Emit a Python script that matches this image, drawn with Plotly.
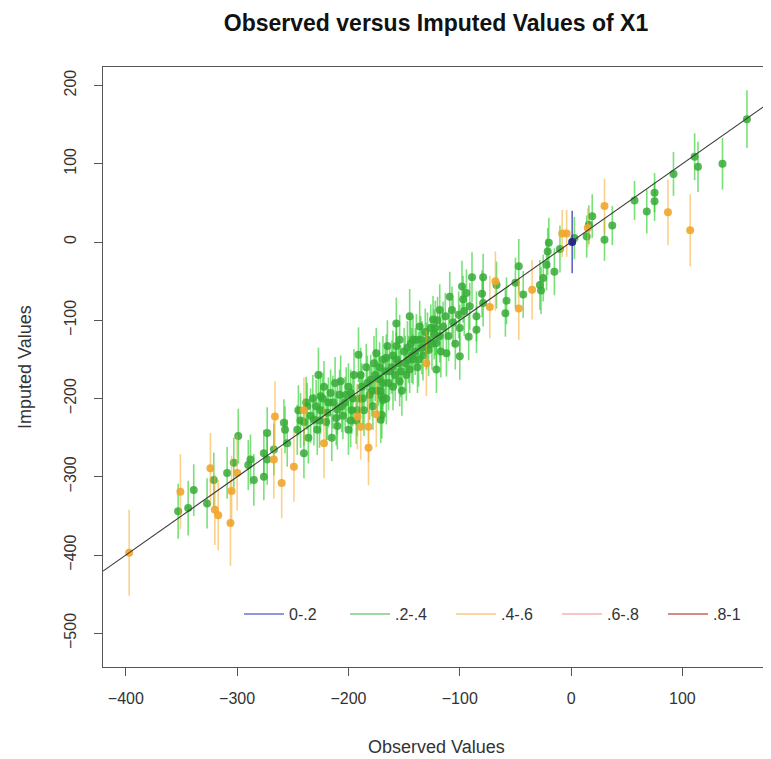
import plotly.graph_objects as go

# ---------------- data ----------------
legend_labels = ["0-.2", ".2-.4", ".4-.6", ".6-.8", ".8-1"]

blue_obs = [1]
blue_imp = [0]
blue_ci = [40]

orange_obs = [87, 107, 30, 15, -8, -4, -35, -47, -68, -73, -130, -192, -182, -182, -175,
              -222, -266, -267, -249, -300, -397, -351, -324, -320, -317, -306, -305, -260, -189, -240]
orange_imp = [38, 15, 46, 18, 11, 11, -61, -85, -50, -83, -155, -223, -236, -263, -220,
              -257, -223, -278, -287, -295, -397, -319, -289, -342, -349, -359, -318, -308, -236, -215]
orange_ci = [42, 46, 35, 25, 30, 30, 38, 40, 38, 40, 42, 42, 45, 48, 42,
             45, 45, 50, 45, 48, 55, 48, 45, 45, 45, 55, 45, 45, 42, 42]

green_obs = [158, 111, 114, 136, 92, 75, 75, 68, 57, 37, 30, 19, 14, 16, 3, -10, -20, -21, -22, -25,
             -28, -27, -15, -43, -47, -50, -58, -59, -67, -79, -89, -80, -79, -85, -91, -97, -98, -94,
             -109, -107, -118, -124, -115, -101, -92, -85, -136, -145, -157, -154, -142, -130, -121,
             -112, -100, -142, -165, -169, -145, -121, -191, -227, -154, -170, -180, -207, -198, -216,
             -210, -171, -231, -246, -255, -273, -258, -240, -276, -288, -299, -237, -225, -166, -157,
             -353, -344, -339, -327, -321, -309, -303, -290, -285, -276, -273, -267, -257, -175, -169,
             -170, -245, -240, -236, -232, -228, -225, -222, -220, -218, -215, -212, -210, -208, -205,
             -203, -200, -200, -197, -195, -193, -190, -188, -186, -184, -181, -178, -176, -174, -172,
             -169, -166, -163, -160, -160, -158, -155, -152, -150, -148, -146, -144, -140, -138, -135,
             -133, -131, -128, -126, -123, -120, -117, -113, -110, -106, -104, -100, -96,
             -243, -238, -234, -229, -226, -223, -219, -214, -211, -206, -202, -198, -196, -192, -189,
             -187, -183, -179, -177, -173, -171, -167, -164, -161, -157, -153, -149, -147, -143, -139,
             -137, -134, -129, -125, -122, -118]
green_imp = [157, 109, 96, 100, 87, 63, 52, 39, 53, 21, 3, 33, 7, 22, 5, -9, -1, -12, -29, -46,
             -55, -62, -38, -67, -31, -52, -75, -91, -55, -45, -45, -66, -78, -95, -82, -73, -57, -65,
             -70, -87, -87, -99, -108, -93, -121, -112, -108, -95, -104, -125, -125, -133, -129,
             -142, -146, -150, -133, -150, -163, -163, -144, -170, -178, -197, -176, -178, -193, -193,
             -214, -227, -227, -240, -257, -244, -231, -270, -270, -278, -248, -210, -197, -148, -133,
             -344, -340, -317, -334, -304, -295, -282, -285, -304, -300, -278, -265, -240, -142, -202,
             -221, -215, -230, -250, -200, -240, -215, -185, -230, -205, -250, -180, -235, -195, -222,
             -205, -185, -240, -215, -170, -228, -200, -185, -215, -160, -195, -210, -170, -190, -160,
             -180, -200, -165, -145, -185, -170, -155, -190, -140, -170, -150, -130, -140, -160, -125,
             -145, -115, -138, -110, -118, -100, -140, -95, -120, -103, -130, -110, -88,
             -228, -205, -222, -210, -228, -200, -218, -205, -225, -210, -195, -228, -200, -215, -170,
             -200, -180, -190, -155, -175, -190, -165, -180, -160, -150, -165, -155, -135, -145, -125,
             -150, -135, -125, -130, -110, -120]
green_ci = [37, 30, 32, 33, 28, 25, 25, 28, 25, 25, 27, 28, 27, 25, 27, 30, 32, 30, 33, 30,
            32, 30, 30, 30, 35, 32, 30, 30, 30, 30, 32, 30, 30, 32, 30, 30, 33, 30,
            32, 30, 33, 30, 32, 30, 30, 30, 33, 35, 33, 32, 30, 30, 32,
            30, 30, 32, 33, 30, 30, 30, 35, 35, 32, 30, 32, 33, 30, 30,
            32, 30, 33, 32, 30, 33, 30, 32, 30, 32, 35, 30, 32, 30, 30,
            35, 35, 33, 32, 35, 33, 32, 32, 33, 30, 32, 33, 30, 32, 30,
            30, 32, 30, 33, 30, 32, 30, 33, 30, 32, 30, 33, 30, 32, 30,
            33, 30, 32, 30, 33, 30, 32, 30, 33, 30, 32, 30, 33, 30, 32,
            30, 33, 30, 32, 30, 33, 30, 32, 30, 33, 30, 32, 30, 33, 30,
            32, 30, 33, 30, 32, 30, 33, 30, 32, 30, 33, 30, 32,
            35, 33, 35, 34, 35, 33, 35, 34, 35, 33, 35, 34, 35, 33, 35,
            34, 35, 33, 35, 34, 35, 33, 35, 34, 35, 33, 35, 34, 35, 33,
            35, 34, 35, 33, 35, 34]

x_range = [-420.5, 177.8]
y_range = [-543.0, 223.6]
x_ticks = [-400, -300, -200, -100, 0, 100]
y_ticks = [-500, -400, -300, -200, -100, 0, 100, 200]

# ---------------- styling ----------------
FONT = "Liberation Sans, Arial, sans-serif"
OFF = 8                      # page body margin of the html page
W, H = 771 - OFF, 759 - OFF  # figure size so that it fits the window
PL, PT, PR, PB = 103 - OFF, 67 - OFF, 769 - OFF, 667 - OFF   # plot box in figure pixels
PW, PH = PR - PL, PB - PT

bar_colors = ["rgba(50,50,180,0.75)", "rgba(40,205,40,0.62)", "rgba(250,170,40,0.55)",
              "rgba(240,140,140,0.6)", "rgba(200,40,40,0.6)"]
pt_colors = ["rgba(30,30,150,0.95)", "rgba(55,170,55,0.85)", "rgba(240,165,45,0.9)",
             "rgba(240,130,130,0.9)", "rgba(190,30,30,0.9)"]
legend_colors = ["#7070d8", "#80cc80", "#f8c880", "#f4b4b4", "#cc6060"]


def bar_xy(xs, ys, cis):
    bx, by = [], []
    for x, y, c in zip(xs, ys, cis):
        bx += [x, x, None]
        by += [y - c, y + c, None]
    return bx, by


fig = go.Figure()

groups = [
    (1, green_obs, green_imp, green_ci),
    (2, orange_obs, orange_imp, orange_ci),
    (0, blue_obs, blue_imp, blue_ci),
]
for gi, xs, ys, cis in groups:
    bx, by = bar_xy(xs, ys, cis)
    fig.add_trace(go.Scatter(x=bx, y=by, mode="lines", showlegend=False, hoverinfo="skip",
                             line=dict(color=bar_colors[gi], width=1.6)))
    fig.add_trace(go.Scatter(x=xs, y=ys, mode="markers", showlegend=False,
                             marker=dict(color=pt_colors[gi], size=8, line=dict(width=0))))

# 45-degree reference line
fig.add_trace(go.Scatter(x=x_range, y=x_range, mode="lines", showlegend=False,
                         hoverinfo="skip", line=dict(color="#3a3a3a", width=1.1)))

# legend entries
for i, lab in enumerate(legend_labels):
    fig.add_trace(go.Scatter(x=[None], y=[None], mode="lines", name=lab,
                             line=dict(color=legend_colors[i], width=1.5)))

axis_common = dict(showgrid=False, zeroline=False, showline=True, mirror=True,
                   linecolor="#555555", linewidth=1, ticks="outside", ticklen=8,
                   tickcolor="#555555", tickwidth=1,
                   tickfont=dict(family=FONT, size=16, color="#333333"))

fig.update_layout(
    width=W, height=H,
    margin=dict(l=PL, r=W - PR, t=PT, b=H - PB),
    paper_bgcolor="white", plot_bgcolor="white",
    font=dict(family=FONT, color="#222222"),
    title=dict(text="<b>Observed versus Imputed Values of X1</b>",
               x=(436 - OFF) / W, xanchor="center",
               y=1 - (23 - OFF) / H, yanchor="middle",
               font=dict(family=FONT, size=23, color="#111111")),
    xaxis=dict(range=x_range, tickvals=x_ticks, ticklabelstandoff=9, **axis_common),
    yaxis=dict(range=y_range, tickvals=y_ticks, tickangle=-90, ticklabelstandoff=12, **axis_common),
    legend=dict(orientation="h", x=1, xanchor="right",
                y=(667 - 614) / PH, yanchor="middle",
                bgcolor="rgba(0,0,0,0)", itemwidth=40, entrywidth=51, entrywidthmode="pixels",
                font=dict(family=FONT, size=16, color="#333333"), traceorder="normal"),
    annotations=[
        dict(text="Observed Values", xref="paper", yref="paper", x=0.5, y=(667 - 747) / PH,
             xanchor="center", yanchor="middle", showarrow=False,
             font=dict(family=FONT, size=18, color="#333333")),
        dict(text="Imputed Values", xref="paper", yref="paper", x=(25 - 103) / PW, y=0.5,
             xanchor="center", yanchor="middle", textangle=-90, showarrow=False,
             font=dict(family=FONT, size=18, color="#333333")),
    ],
)

fig.write_html("out.html")
